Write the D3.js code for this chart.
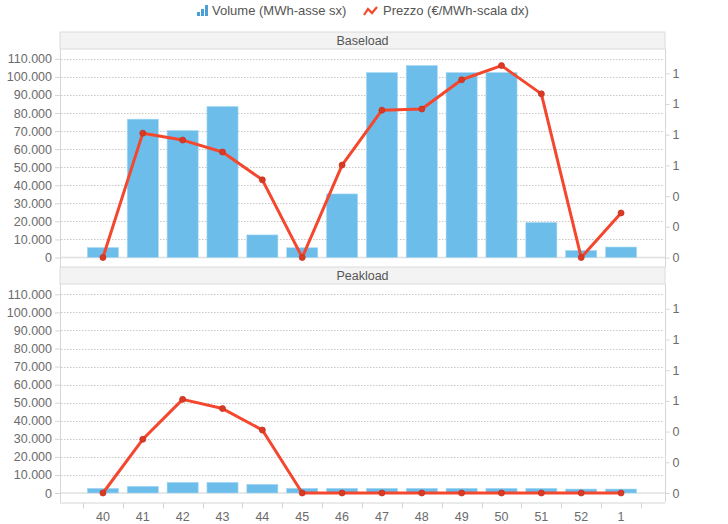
<!doctype html>
<html lang="it">
<head>
    <meta charset="utf-8">
    <title>Baseload / Peakload</title>
    <script src="https://cdnjs.cloudflare.com/ajax/libs/d3/7.8.5/d3.min.js"></script>
    <style>
        body { margin: 0; background: #fff; }
        svg text { font-family: Arial, "Liberation Sans", sans-serif; fill: #6b6b6b; }
        .grid line { stroke: #c9c9c9; stroke-dasharray: 1.5,1.5; }
        .axis path { display: none; }
        .axis line { stroke: #d6d6d6; }
    </style>
</head>
<body>
<div id="chart"></div>
<script>

// categories (settimana)
var weeks = ["40", "41", "42", "43", "44", "45", "46", "47", "48", "49", "50", "51", "52", "1"];

// Baseload
var baseVolume = [5500, 76600, 70300, 83600, 12500, 5400, 35200, 102400, 106300, 102400, 102400, 19400, 3900, 5800];
var basePrice  = [0, 0.81, 0.765, 0.687, 0.506, 0, 0.602, 0.96, 0.967, 1.158, 1.25, 1.066, 0, 0.29];

// Peakload
var peakVolume = [2600, 3700, 5900, 5900, 4800, 2600, 2600, 2600, 2600, 2600, 2600, 2600, 2200, 2200];
var peakPrice  = [0, 0.35, 0.61, 0.55, 0.41, 0, 0, 0, 0, 0, 0, 0, 0, 0];

var volumeTicks = d3.range(0, 110001, 10000);
var priceTicks = [0, 0.2, 0.4, 0.6, 0.8, 1.0, 1.2];

var width = 728, height = 524;
var plotLeft = 60, plotRight = 665;
var barColor = "#6cbdea", lineColor = "#f4472e", dotColor = "#d83a25";

var it = d3.formatLocale({decimal: ",", thousands: ".", grouping: [3], currency: ["€", ""]});
var fmtVol = it.format(",.0f");
var fmtPrice = d3.format(".0f");

var svg = d3.select("#chart").append("svg")
    .attr("width", width)
    .attr("height", height);

// x scale shared by both panels
var x = d3.scaleBand()
    .domain(weeks)
    .range([83, 641])
    .paddingInner(0.22)
    .paddingOuter(0.11);

var xStep = d3.scaleBand().domain(weeks).range([83, 641]);

// legend
var legend = svg.append("g").attr("class", "legend");
var lg1 = legend.append("g").attr("transform", "translate(197, 4)");
[[0, 8, 4], [4, 5, 7], [8, 1, 11]].forEach(function(b) {
    lg1.append("rect").attr("x", b[0]).attr("y", b[1]).attr("width", 3).attr("height", b[2]).attr("fill", "#4a9fd6");
});
legend.append("text").attr("x", 212).attr("y", 15).attr("font-size", 13).style("fill", "#555")
    .text("Volume (MWh-asse sx)");
legend.append("path")
    .attr("d", "M364,15 L368,9 L372,13 L377,7")
    .attr("fill", "none").attr("stroke", lineColor).attr("stroke-width", 2.2);
legend.append("text").attr("x", 383).attr("y", 15).attr("font-size", 13).style("fill", "#555")
    .text("Prezzo (€/MWh-scala dx)");

var panels = [
    {name: "Baseload", top: 32, bottom: 267, volume: baseVolume, price: basePrice},
    {name: "Peakload", top: 267, bottom: 502.5, volume: peakVolume, price: peakPrice}
];

panels.forEach(function(p, pi) {
    var titleH = 17;
    var plotTop = p.top + titleH;
    var g = svg.append("g").attr("class", "panel");

    var y = d3.scaleLinear().domain([0, 115000]).range([p.bottom - 9.5, p.bottom - 9.5 - 207.7]);
    var y2 = d3.scaleLinear().domain([0, 1.353]).range([p.bottom - 9.5, p.bottom - 9.5 - 207.7]);

    // title bar
    g.append("rect")
        .attr("x", plotLeft).attr("y", p.top)
        .attr("width", plotRight - plotLeft).attr("height", titleH)
        .attr("fill", "#f3f3f3").attr("stroke", "#dcdcdc");
    g.append("text")
        .attr("x", (plotLeft + plotRight) / 2).attr("y", p.top + titleH / 2)
        .attr("dy", "0.35em").attr("text-anchor", "middle").attr("font-size", 12.5)
        .style("fill", "#555")
        .text(p.name);

    // grid
    g.append("g").attr("class", "grid")
        .selectAll("line").data(volumeTicks.filter(function(d) { return d > 0; }))
        .enter().append("line")
        .attr("x1", plotLeft + 1).attr("x2", plotRight - 1)
        .attr("y1", function(d) { return Math.round(y(d)) + 0.5; })
        .attr("y2", function(d) { return Math.round(y(d)) + 0.5; });

    g.append("line")
        .attr("x1", plotLeft).attr("x2", plotRight)
        .attr("y1", y(0)).attr("y2", y(0))
        .attr("stroke", "#e0e0e0").attr("stroke-width", 1.5);

    // plot borders
    g.append("line").attr("x1", plotLeft + 0.5).attr("x2", plotLeft + 0.5)
        .attr("y1", plotTop).attr("y2", p.bottom).attr("stroke", "#d6d6d6");
    g.append("line").attr("x1", plotRight + 0.5).attr("x2", plotRight + 0.5)
        .attr("y1", plotTop).attr("y2", p.bottom).attr("stroke", "#d6d6d6");
    g.append("line").attr("x1", plotLeft).attr("x2", plotRight)
        .attr("y1", p.bottom + 0.5).attr("y2", p.bottom + 0.5).attr("stroke", "#d6d6d6");

    // left axis
    g.append("g").attr("class", "axis")
        .attr("transform", "translate(" + plotLeft + ",0)")
        .call(d3.axisLeft(y).tickValues(volumeTicks).tickFormat(fmtVol).tickSize(5).tickPadding(3))
        .selectAll("text").attr("font-size", 12.5).style("font-family", null);

    // right axis
    g.append("g").attr("class", "axis")
        .attr("transform", "translate(" + (plotRight + 0.5) + ",0)")
        .call(d3.axisRight(y2).tickValues(priceTicks).tickFormat(fmtPrice).tickSize(4).tickPadding(3))
        .selectAll("text").attr("font-size", 12.5).style("font-family", null);

    // bars
    g.append("g").selectAll("rect")
        .data(p.volume)
        .enter().append("rect")
        .attr("x", function(d, i) { return x(weeks[i]); })
        .attr("width", x.bandwidth())
        .attr("y", function(d) { return y(d); })
        .attr("height", function(d) { return y(0) - y(d); })
        .attr("fill", barColor)
        .attr("stroke", "#a9d9f4").attr("stroke-width", 0.6);

    // price line
    var line = d3.line()
        .x(function(d, i) { return x(weeks[i]) + x.bandwidth() / 2; })
        .y(function(d) { return y2(d); });

    g.append("path")
        .datum(p.price)
        .attr("d", line)
        .attr("fill", "none")
        .attr("stroke", lineColor)
        .attr("stroke-width", 3)
        .attr("stroke-linejoin", "round");

    g.append("g").selectAll("circle")
        .data(p.price)
        .enter().append("circle")
        .attr("cx", function(d, i) { return x(weeks[i]) + x.bandwidth() / 2; })
        .attr("cy", function(d) { return y2(d); })
        .attr("r", 3)
        .attr("fill", dotColor)
        .attr("stroke", "#c8321e").attr("stroke-width", 0.8);

    // x axis on the last panel
    if (pi === panels.length - 1) {
        var xa = g.append("g").attr("class", "axis");
        xa.selectAll("line.tick")
            .data(weeks.concat(["end"]))
            .enter().append("line")
            .attr("x1", function(d, i) { return Math.round(xStep(weeks[0]) + i * xStep.step()) + 0.5; })
            .attr("x2", function(d, i) { return Math.round(xStep(weeks[0]) + i * xStep.step()) + 0.5; })
            .attr("y1", p.bottom).attr("y2", p.bottom + 6);
        xa.selectAll("text")
            .data(weeks)
            .enter().append("text")
            .attr("x", function(d) { return x(d) + x.bandwidth() / 2; })
            .attr("y", p.bottom + 14)
            .attr("dy", "0.35em")
            .attr("text-anchor", "middle")
            .attr("font-size", 12.5)
            .text(function(d) { return d; });
    }
});
</script>
</body>
</html>
